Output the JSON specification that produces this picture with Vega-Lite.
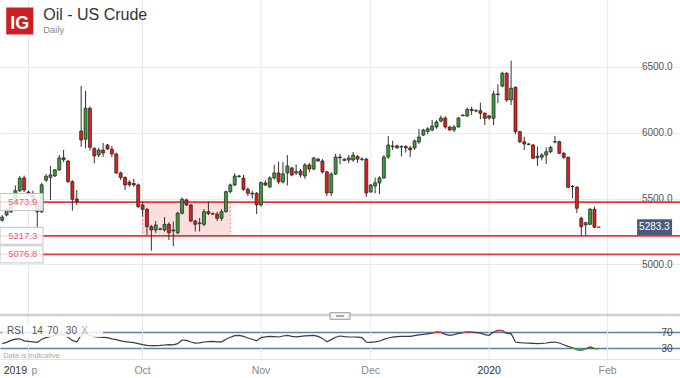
{
"$schema": "https://vega.github.io/schema/vega-lite/v6.json",
"width": 680,
"height": 359,
"padding": {"left": 0, "top": 0, "right": 0, "bottom": 19},
"autosize": {"type": "none"},
"background": "#ffffff",
"config": {"view": {"stroke": null}, "font": "Liberation Sans"},
"datasets": {
"candles": [
{"d":"2019-08-25","o":5336,"h":5375,"l":5325,"c":5360,"r":41},
{"d":"2019-08-26","o":5376,"h":5425,"l":5365,"c":5413,"r":44},
{"d":"2019-08-27","o":5400,"h":5450,"l":5390,"c":5436,"r":49},
{"d":"2019-08-28","o":5470,"h":5600,"l":5460,"c":5560,"r":52},
{"d":"2019-08-29","o":5560,"h":5672,"l":5550,"c":5655,"r":53},
{"d":"2019-08-30","o":5657,"h":5675,"l":5550,"c":5566,"r":48},
{"d":"2019-09-01","o":5550,"h":5560,"l":5520,"c":5540,"r":46.5},
{"d":"2019-09-02","o":5540,"h":5560,"l":5460,"c":5480,"r":45.5},
{"d":"2019-09-03","o":5460,"h":5480,"l":5285,"c":5400,"r":44},
{"d":"2019-09-04","o":5400,"h":5620,"l":5390,"c":5605,"r":52},
{"d":"2019-09-05","o":5640,"h":5687,"l":5627,"c":5670,"r":56},
{"d":"2019-09-06","o":5660,"h":5750,"l":5490,"c":5680,"r":59},
{"d":"2019-09-08","o":5672,"h":5725,"l":5665,"c":5718,"r":61},
{"d":"2019-09-09","o":5718,"h":5831,"l":5710,"c":5809,"r":64},
{"d":"2019-09-10","o":5810,"h":5870,"l":5778,"c":5795,"r":63},
{"d":"2019-09-11","o":5785,"h":5795,"l":5620,"c":5629,"r":57},
{"d":"2019-09-12","o":5629,"h":5640,"l":5409,"c":5495,"r":49},
{"d":"2019-09-13","o":5497,"h":5566,"l":5452,"c":5478,"r":45},
{"d":"2019-09-15","o":6013,"h":6355,"l":5894,"c":5945,"r":62},
{"d":"2019-09-16","o":5951,"h":6320,"l":5882,"c":6186,"r":68},
{"d":"2019-09-17","o":6186,"h":6200,"l":5865,"c":5890,"r":62},
{"d":"2019-09-18","o":5882,"h":5890,"l":5768,"c":5824,"r":58.5},
{"d":"2019-09-19","o":5831,"h":5885,"l":5815,"c":5869,"r":57},
{"d":"2019-09-20","o":5869,"h":5922,"l":5816,"c":5846,"r":56.5},
{"d":"2019-09-22","o":5907,"h":5915,"l":5870,"c":5877,"r":55.8},
{"d":"2019-09-23","o":5875,"h":5900,"l":5816,"c":5839,"r":53},
{"d":"2019-09-24","o":5839,"h":5850,"l":5690,"c":5695,"r":51},
{"d":"2019-09-25","o":5695,"h":5705,"l":5640,"c":5660,"r":48},
{"d":"2019-09-26","o":5660,"h":5670,"l":5566,"c":5604,"r":46},
{"d":"2019-09-27","o":5625,"h":5640,"l":5590,"c":5605,"r":44.5},
{"d":"2019-09-29","o":5615,"h":5650,"l":5590,"c":5604,"r":43.5},
{"d":"2019-09-30","o":5604,"h":5615,"l":5430,"c":5439,"r":41},
{"d":"2019-10-01","o":5452,"h":5477,"l":5363,"c":5419,"r":38.5},
{"d":"2019-10-02","o":5419,"h":5430,"l":5224,"c":5287,"r":36.7},
{"d":"2019-10-03","o":5287,"h":5300,"l":5105,"c":5262,"r":36},
{"d":"2019-10-04","o":5262,"h":5330,"l":5240,"c":5300,"r":35.8},
{"d":"2019-10-06","o":5270,"h":5280,"l":5260,"c":5268,"r":36.5},
{"d":"2019-10-07","o":5262,"h":5360,"l":5250,"c":5305,"r":37.5},
{"d":"2019-10-08","o":5305,"h":5320,"l":5186,"c":5241,"r":38.3},
{"d":"2019-10-09","o":5255,"h":5325,"l":5140,"c":5262,"r":38},
{"d":"2019-10-10","o":5241,"h":5400,"l":5230,"c":5389,"r":41},
{"d":"2019-10-11","o":5389,"h":5510,"l":5380,"c":5495,"r":50},
{"d":"2019-10-13","o":5490,"h":5500,"l":5445,"c":5452,"r":49},
{"d":"2019-10-14","o":5452,"h":5460,"l":5320,"c":5330,"r":45},
{"d":"2019-10-15","o":5330,"h":5340,"l":5250,"c":5305,"r":42},
{"d":"2019-10-16","o":5310,"h":5353,"l":5250,"c":5316,"r":43},
{"d":"2019-10-17","o":5305,"h":5420,"l":5290,"c":5401,"r":45},
{"d":"2019-10-18","o":5401,"h":5477,"l":5375,"c":5386,"r":46},
{"d":"2019-10-20","o":5386,"h":5395,"l":5375,"c":5383,"r":46.7},
{"d":"2019-10-21","o":5383,"h":5400,"l":5330,"c":5351,"r":45.5},
{"d":"2019-10-22","o":5351,"h":5420,"l":5330,"c":5401,"r":45.5},
{"d":"2019-10-23","o":5401,"h":5560,"l":5395,"c":5553,"r":52},
{"d":"2019-10-24","o":5553,"h":5615,"l":5540,"c":5604,"r":57},
{"d":"2019-10-25","o":5604,"h":5692,"l":5595,"c":5672,"r":61},
{"d":"2019-10-27","o":5672,"h":5680,"l":5660,"c":5668,"r":61.7},
{"d":"2019-10-28","o":5655,"h":5680,"l":5560,"c":5571,"r":59},
{"d":"2019-10-29","o":5571,"h":5585,"l":5520,"c":5541,"r":55},
{"d":"2019-10-30","o":5541,"h":5560,"l":5500,"c":5535,"r":52},
{"d":"2019-10-31","o":5541,"h":5550,"l":5383,"c":5452,"r":48},
{"d":"2019-11-01","o":5452,"h":5630,"l":5440,"c":5621,"r":56},
{"d":"2019-11-03","o":5619,"h":5640,"l":5595,"c":5604,"r":58},
{"d":"2019-11-04","o":5589,"h":5670,"l":5580,"c":5657,"r":59},
{"d":"2019-11-05","o":5657,"h":5756,"l":5645,"c":5695,"r":58.5},
{"d":"2019-11-06","o":5695,"h":5780,"l":5610,"c":5627,"r":57.5},
{"d":"2019-11-07","o":5627,"h":5778,"l":5615,"c":5688,"r":60},
{"d":"2019-11-08","o":5695,"h":5830,"l":5600,"c":5748,"r":61.7},
{"d":"2019-11-10","o":5733,"h":5740,"l":5670,"c":5680,"r":59},
{"d":"2019-11-11","o":5695,"h":5760,"l":5680,"c":5705,"r":58},
{"d":"2019-11-12","o":5710,"h":5725,"l":5660,"c":5680,"r":59},
{"d":"2019-11-13","o":5672,"h":5770,"l":5650,"c":5756,"r":60.5},
{"d":"2019-11-14","o":5756,"h":5770,"l":5700,"c":5725,"r":61},
{"d":"2019-11-15","o":5725,"h":5815,"l":5715,"c":5809,"r":61.7},
{"d":"2019-11-17","o":5800,"h":5810,"l":5780,"c":5786,"r":59},
{"d":"2019-11-18","o":5786,"h":5800,"l":5690,"c":5703,"r":54},
{"d":"2019-11-19","o":5703,"h":5710,"l":5520,"c":5543,"r":45.5},
{"d":"2019-11-20","o":5543,"h":5700,"l":5520,"c":5687,"r":51},
{"d":"2019-11-21","o":5687,"h":5840,"l":5680,"c":5816,"r":57},
{"d":"2019-11-22","o":5816,"h":5840,"l":5760,"c":5810,"r":60},
{"d":"2019-11-24","o":5800,"h":5805,"l":5785,"c":5790,"r":58.5},
{"d":"2019-11-25","o":5793,"h":5830,"l":5770,"c":5809,"r":57.5},
{"d":"2019-11-26","o":5793,"h":5855,"l":5780,"c":5831,"r":57.5},
{"d":"2019-11-27","o":5820,"h":5830,"l":5770,"c":5800,"r":57},
{"d":"2019-11-28","o":5800,"h":5815,"l":5785,"c":5798,"r":56},
{"d":"2019-11-29","o":5800,"h":5810,"l":5513,"c":5543,"r":44.5},
{"d":"2019-12-01","o":5551,"h":5610,"l":5545,"c":5604,"r":44},
{"d":"2019-12-02","o":5596,"h":5660,"l":5540,"c":5620,"r":45.5},
{"d":"2019-12-03","o":5619,"h":5670,"l":5535,"c":5657,"r":47.5},
{"d":"2019-12-04","o":5657,"h":5830,"l":5650,"c":5816,"r":51.5},
{"d":"2019-12-05","o":5816,"h":5975,"l":5800,"c":5907,"r":55},
{"d":"2019-12-06","o":5895,"h":5940,"l":5870,"c":5900,"r":57},
{"d":"2019-12-08","o":5900,"h":5910,"l":5880,"c":5885,"r":58.5},
{"d":"2019-12-09","o":5895,"h":5905,"l":5820,"c":5892,"r":59},
{"d":"2019-12-10","o":5895,"h":5905,"l":5850,"c":5885,"r":59},
{"d":"2019-12-11","o":5885,"h":5900,"l":5816,"c":5870,"r":59},
{"d":"2019-12-12","o":5885,"h":5950,"l":5870,"c":5938,"r":61},
{"d":"2019-12-13","o":5930,"h":6030,"l":5915,"c":5968,"r":63},
{"d":"2019-12-15","o":5983,"h":6030,"l":5975,"c":6021,"r":64},
{"d":"2019-12-16","o":6010,"h":6044,"l":5990,"c":6030,"r":65.5},
{"d":"2019-12-17","o":6021,"h":6097,"l":6010,"c":6051,"r":67,"zone":"ob1"},
{"d":"2019-12-18","o":6044,"h":6095,"l":6030,"c":6082,"r":70,"zone":"ob1"},
{"d":"2019-12-19","o":6089,"h":6130,"l":6080,"c":6112,"r":69,"zone":"ob1"},
{"d":"2019-12-20","o":6112,"h":6125,"l":6030,"c":6044,"r":64},
{"d":"2019-12-22","o":6044,"h":6050,"l":6015,"c":6021,"r":61.7},
{"d":"2019-12-23","o":6021,"h":6060,"l":6005,"c":6044,"r":63.5},
{"d":"2019-12-24","o":6044,"h":6120,"l":6040,"c":6112,"r":66.5},
{"d":"2019-12-25","o":6130,"h":6140,"l":6125,"c":6135,"r":68.5,"zone":"ob2"},
{"d":"2019-12-26","o":6128,"h":6190,"l":6120,"c":6178,"r":70,"zone":"ob2"},
{"d":"2019-12-27","o":6178,"h":6198,"l":6135,"c":6168,"r":69.5,"zone":"ob2"},
{"d":"2019-12-29","o":6168,"h":6180,"l":6155,"c":6165,"r":68.5},
{"d":"2019-12-30","o":6168,"h":6229,"l":6103,"c":6148,"r":67},
{"d":"2019-12-31","o":6148,"h":6155,"l":6059,"c":6110,"r":63.5},
{"d":"2020-01-01","o":6128,"h":6135,"l":6100,"c":6112,"r":61.7},
{"d":"2020-01-02","o":6110,"h":6320,"l":6059,"c":6295,"r":70,"zone":"ob3"},
{"d":"2020-01-03","o":6290,"h":6368,"l":6224,"c":6295,"r":74,"zone":"ob3"},
{"d":"2020-01-05","o":6355,"h":6464,"l":6345,"c":6452,"r":73.5,"zone":"ob3"},
{"d":"2020-01-06","o":6452,"h":6460,"l":6235,"c":6249,"r":66.5},
{"d":"2020-01-07","o":6249,"h":6547,"l":6211,"c":6338,"r":65.8},
{"d":"2020-01-08","o":6346,"h":6350,"l":5990,"c":6008,"r":45},
{"d":"2020-01-09","o":6008,"h":6015,"l":5920,"c":5932,"r":43.5},
{"d":"2020-01-10","o":5932,"h":5970,"l":5869,"c":5915,"r":42.5},
{"d":"2020-01-12","o":5915,"h":5920,"l":5905,"c":5912,"r":42},
{"d":"2020-01-13","o":5907,"h":5915,"l":5800,"c":5806,"r":41.5},
{"d":"2020-01-14","o":5810,"h":5895,"l":5748,"c":5822,"r":40.8},
{"d":"2020-01-15","o":5814,"h":5845,"l":5790,"c":5831,"r":41.5},
{"d":"2020-01-16","o":5831,"h":5890,"l":5763,"c":5856,"r":42.5},
{"d":"2020-01-17","o":5856,"h":5900,"l":5845,"c":5890,"r":44},
{"d":"2020-01-19","o":5930,"h":5976,"l":5920,"c":5932,"r":45},
{"d":"2020-01-20","o":5932,"h":5940,"l":5840,"c":5844,"r":42.5},
{"d":"2020-01-21","o":5844,"h":5855,"l":5800,"c":5814,"r":38},
{"d":"2020-01-22","o":5814,"h":5820,"l":5580,"c":5586,"r":34},
{"d":"2020-01-23","o":5590,"h":5604,"l":5503,"c":5592,"r":30.5,"zone":"os1"},
{"d":"2020-01-24","o":5586,"h":5595,"l":5389,"c":5427,"r":26,"zone":"os1"},
{"d":"2020-01-26","o":5351,"h":5363,"l":5220,"c":5287,"r":24.5,"zone":"os1"},
{"d":"2020-01-27","o":5300,"h":5325,"l":5220,"c":5317,"r":27.5,"zone":"os1"},
{"d":"2020-01-28","o":5305,"h":5430,"l":5300,"c":5419,"r":32.5},
{"d":"2020-01-29","o":5419,"h":5439,"l":5275,"c":5283,"r":28.5,"zone":"os2"},
{"d":"2020-01-30","o":5283,"h":5285,"l":5281,"c":5283.3,"r":28.3,"zone":"os2"}
],
"levels": [{"level": 5473.9}, {"level": 5217.3}, {"level": 5076.8}],
"months": [
{"d": "2019-09-01", "label": "p"},
{"d": "2019-10-01", "label": "Oct"},
{"d": "2019-11-01", "label": "Nov"},
{"d": "2019-12-01", "label": "Dec"},
{"d": "2020-01-01", "label": "2020"},
{"d": "2020-02-02", "label": "Feb"}
]
},
"layer": [
{"layer": [
{"data": {"name": "months"},
 "mark": {"type": "rule", "color": "#e8e8e8", "strokeWidth": 1},
 "encoding": {
  "x": {"field": "d", "type": "ordinal"}}},
{"data": {"values": [{}]},
 "mark": {"type": "rect", "fill": "#f7c4c4", "fillOpacity": 0.55, "stroke": "#ef8a8a", "strokeDash": [2, 2], "strokeWidth": 1},
 "encoding": {
  "x": {"datum": "2019-10-01", "type": "ordinal"},
  "x2": {"datum": "2019-10-24"},
  "y": {"datum": 5473.9, "type": "quantitative", "scale": {"domain": [4282.5, 7008], "nice": false, "zero": false}},
  "y2": {"datum": 5217.3}}},
{"data": {"name": "levels"},
 "mark": {"type": "rule", "color": "#e5393c", "strokeWidth": 1.8},
 "encoding": {
  "y": {"field": "level", "type": "quantitative", "scale": {"domain": [4282.5, 7008], "nice": false, "zero": false}}}},
{"data": {"name": "candles"},
 "mark": {"type": "rule", "color": "#333333", "strokeWidth": 1},
 "encoding": {
  "x": {"field": "d", "type": "ordinal",
   "scale": {"type": "band", "paddingInner": 0, "paddingOuter": 0, "domain": ["2019-08-25","2019-08-26","2019-08-27","2019-08-28","2019-08-29","2019-08-30","2019-09-01","2019-09-02","2019-09-03","2019-09-04","2019-09-05","2019-09-06","2019-09-08","2019-09-09","2019-09-10","2019-09-11","2019-09-12","2019-09-13","2019-09-15","2019-09-16","2019-09-17","2019-09-18","2019-09-19","2019-09-20","2019-09-22","2019-09-23","2019-09-24","2019-09-25","2019-09-26","2019-09-27","2019-09-29","2019-09-30","2019-10-01","2019-10-02","2019-10-03","2019-10-04","2019-10-06","2019-10-07","2019-10-08","2019-10-09","2019-10-10","2019-10-11","2019-10-13","2019-10-14","2019-10-15","2019-10-16","2019-10-17","2019-10-18","2019-10-20","2019-10-21","2019-10-22","2019-10-23","2019-10-24","2019-10-25","2019-10-27","2019-10-28","2019-10-29","2019-10-30","2019-10-31","2019-11-01","2019-11-03","2019-11-04","2019-11-05","2019-11-06","2019-11-07","2019-11-08","2019-11-10","2019-11-11","2019-11-12","2019-11-13","2019-11-14","2019-11-15","2019-11-17","2019-11-18","2019-11-19","2019-11-20","2019-11-21","2019-11-22","2019-11-24","2019-11-25","2019-11-26","2019-11-27","2019-11-28","2019-11-29","2019-12-01","2019-12-02","2019-12-03","2019-12-04","2019-12-05","2019-12-06","2019-12-08","2019-12-09","2019-12-10","2019-12-11","2019-12-12","2019-12-13","2019-12-15","2019-12-16","2019-12-17","2019-12-18","2019-12-19","2019-12-20","2019-12-22","2019-12-23","2019-12-24","2019-12-25","2019-12-26","2019-12-27","2019-12-29","2019-12-30","2019-12-31","2020-01-01","2020-01-02","2020-01-03","2020-01-05","2020-01-06","2020-01-07","2020-01-08","2020-01-09","2020-01-10","2020-01-12","2020-01-13","2020-01-14","2020-01-15","2020-01-16","2020-01-17","2020-01-19","2020-01-20","2020-01-21","2020-01-22","2020-01-23","2020-01-24","2020-01-26","2020-01-27","2020-01-28","2020-01-29","2020-01-30","2020-01-31","2020-02-02","2020-02-03","2020-02-04","2020-02-05","2020-02-06","2020-02-07","2020-02-09","2020-02-10","2020-02-11","2020-02-12","2020-02-13","2020-02-14","2020-02-16","2020-02-17","2020-02-18","2020-02-19","2020-02-20"]},
   "axis": {"orient": "bottom", "title": null, "labels": false, "ticks": false, "grid": false, "domain": true, "domainColor": "#e2e2e2"}},
  "y": {"field": "l", "type": "quantitative", "scale": {"domain": [4282.5, 7008], "nice": false, "zero": false},
   "axis": {"orient": "right", "title": null, "values": [5000, 5500, 6000, 6500], "format": ".1f",
    "domain": false, "ticks": false, "grid": true, "gridColor": "#ebebeb",
    "labelAlign": "right", "labelBaseline": "middle", "labelPadding": -8, "labelFontSize": 10, "labelColor": "#555555"}},
  "y2": {"field": "h"}}},
{"data": {"name": "candles"},
 "mark": {"type": "bar", "size": 3, "stroke": "#1e1e1e", "strokeWidth": 0.7},
 "encoding": {
  "x": {"field": "d", "type": "ordinal"},
  "y": {"field": "o", "type": "quantitative", "scale": {"domain": [4282.5, 7008], "nice": false, "zero": false}},
  "y2": {"field": "c"},
  "color": {"condition": {"test": "datum.c >= datum.o", "value": "#3b9b3b"}, "value": "#e31c1c"}}},
{"data": {"name": "levels"},
 "mark": {"type": "point", "shape": "M-0.11,-0.425H2.04V0.425H-0.11Z", "size": 1600, "filled": true, "fill": "#ffffff", "fillOpacity": 0.85, "stroke": "#c4c4c4", "strokeWidth": 1, "opacity": 1},
 "encoding": {
  "x": {"datum": "2019-08-25", "type": "ordinal"},
  "y": {"field": "level", "type": "quantitative", "scale": {"domain": [4282.5, 7008], "nice": false, "zero": false}}}},
{"data": {"name": "levels"},
 "mark": {"type": "text", "align": "left", "baseline": "middle", "dx": 6, "fontSize": 9.5, "color": "#e8676a"},
 "encoding": {
  "x": {"datum": "2019-08-25", "type": "ordinal"},
  "y": {"field": "level", "type": "quantitative", "scale": {"domain": [4282.5, 7008], "nice": false, "zero": false}},
  "text": {"field": "level", "type": "quantitative", "format": ".1f"}}},
{"data": {"name": "candles"},
 "transform": [{"filter": "datum.d == '2020-01-30'"}],
 "mark": {"type": "point", "shape": "M-1.074,-0.457H0.926V0.457H-1.074Z", "size": 1225, "filled": true, "fill": "#4a5c7a", "opacity": 1, "strokeWidth": 0},
 "encoding": {
  "x": {"datum": "2020-02-14", "type": "ordinal"},
  "y": {"field": "c", "type": "quantitative", "scale": {"domain": [4282.5, 7008], "nice": false, "zero": false}}}},
{"data": {"name": "candles"},
 "transform": [{"filter": "datum.d == '2020-01-30'"}],
 "mark": {"type": "text", "align": "center", "baseline": "middle", "dx": -1.5, "fontSize": 10, "color": "#ffffff"},
 "encoding": {
  "x": {"datum": "2020-02-14", "type": "ordinal"},
  "y": {"field": "c", "type": "quantitative", "scale": {"domain": [4282.5, 7008], "nice": false, "zero": false}},
  "text": {"field": "c", "type": "quantitative", "format": ".1f"}}},
{"data": {"values": [{}]},
 "mark": {"type": "point", "shape": "square", "size": 729, "filled": true, "fill": "#cc1f24", "opacity": 1},
 "encoding": {
  "x": {"datum": "2019-08-29", "type": "ordinal"},
  "y": {"datum": 6848.6, "type": "quantitative", "scale": {"domain": [4282.5, 7008], "nice": false, "zero": false}}}},
{"data": {"values": [{}]},
 "mark": {"type": "text", "text": "IG", "align": "center", "baseline": "alphabetic", "fontSize": 18, "fontWeight": "bold", "color": "#ffffff"},
 "encoding": {
  "x": {"datum": "2019-08-29", "type": "ordinal"},
  "y": {"datum": 6787, "type": "quantitative", "scale": {"domain": [4282.5, 7008], "nice": false, "zero": false}}}},
{"data": {"values": [{}]},
 "mark": {"type": "text", "text": "Oil - US Crude", "align": "left", "baseline": "alphabetic", "dx": 41, "fontSize": 16, "color": "#333333"},
 "encoding": {
  "x": {"datum": "2019-08-25", "type": "ordinal"},
  "y": {"datum": 6856, "type": "quantitative", "scale": {"domain": [4282.5, 7008], "nice": false, "zero": false}}}},
{"data": {"values": [{}]},
 "mark": {"type": "text", "text": "Daily", "align": "left", "baseline": "alphabetic", "dx": 41, "fontSize": 9.5, "color": "#888888"},
 "encoding": {
  "x": {"datum": "2019-08-25", "type": "ordinal"},
  "y": {"datum": 6757, "type": "quantitative", "scale": {"domain": [4282.5, 7008], "nice": false, "zero": false}}}}
]},
{"layer": [
{"data": {"values": [{}]},
 "mark": {"type": "rule", "color": "#d0d0d0", "strokeWidth": 2.5},
 "encoding": {
  "y": {"datum": 112.5, "type": "quantitative", "scale": {"domain": [2.5, 900], "nice": false, "zero": false}}}},
{"data": {"name": "candles"},
 "mark": {"type": "line", "color": "#3c3c3c", "strokeWidth": 1.2},
 "encoding": {
  "x": {"field": "d", "type": "ordinal"},
  "y": {"field": "r", "type": "quantitative", "scale": {"domain": [2.5, 900], "nice": false, "zero": false},
   "axis": {"orient": "right", "title": null, "values": [30, 70], "domain": false, "ticks": false, "grid": true,
    "gridColor": "#5b7fa6", "gridWidth": 1.3, "labelAlign": "right", "labelBaseline": "middle", "labelPadding": -8,
    "labelFontSize": 10, "labelColor": "#444444"}}}},
{"data": {"name": "candles"},
 "transform": [{"filter": {"field": "zone", "oneOf": ["ob1", "ob2", "ob3"]}}],
 "mark": {"type": "line", "color": "#e53935", "strokeWidth": 1.3},
 "encoding": {
  "x": {"field": "d", "type": "ordinal"},
  "y": {"field": "r", "type": "quantitative", "scale": {"domain": [2.5, 900], "nice": false, "zero": false}},
  "detail": {"field": "zone"}}},
{"data": {"name": "candles"},
 "transform": [{"filter": {"field": "zone", "oneOf": ["os1", "os2"]}}],
 "mark": {"type": "line", "color": "#3aaa3a", "strokeWidth": 1.3},
 "encoding": {
  "x": {"field": "d", "type": "ordinal"},
  "y": {"field": "r", "type": "quantitative", "scale": {"domain": [2.5, 900], "nice": false, "zero": false}},
  "detail": {"field": "zone"}}},
{"data": {"values": [{}]},
 "mark": {"type": "rect", "fill": "#ffffff", "opacity": 0.85},
 "encoding": {
  "x": {"datum": "2019-08-25", "type": "ordinal"},
  "x2": {"datum": "2019-09-20"},
  "y": {"datum": 87.5, "type": "quantitative", "scale": {"domain": [2.5, 900], "nice": false, "zero": false}},
  "y2": {"datum": 57.5}}},
{"data": {"values": [{}]},
 "mark": {"type": "point", "shape": "M-1,-0.33H1V0.33H-1Z", "size": 400, "filled": true, "fill": "#f5f5f5", "stroke": "#999999", "strokeWidth": 1, "opacity": 1},
 "encoding": {
  "x": {"datum": "2019-11-22", "type": "ordinal"},
  "y": {"datum": 110, "type": "quantitative", "scale": {"domain": [2.5, 900], "nice": false, "zero": false}}}},
{"data": {"values": [{}]},
 "mark": {"type": "point", "shape": "M-1,-0.25H1V0.25H-1Z", "size": 64, "filled": true, "fill": "#aaaaaa", "opacity": 1},
 "encoding": {
  "x": {"datum": "2019-11-22", "type": "ordinal"},
  "y": {"datum": 110, "type": "quantitative", "scale": {"domain": [2.5, 900], "nice": false, "zero": false}}}},
{"data": {"values": [{}]},
 "mark": {"type": "text", "text": "RSI", "align": "center", "baseline": "middle", "fontSize": 10, "color": "#555555"},
 "encoding": {
  "x": {"datum": "2019-08-28", "type": "ordinal"},
  "y": {"datum": 72.5, "type": "quantitative", "scale": {"domain": [2.5, 900], "nice": false, "zero": false}}}},
{"data": {"values": [{}]},
 "mark": {"type": "text", "text": "14", "align": "center", "baseline": "middle", "fontSize": 10, "color": "#555555"},
 "encoding": {
  "x": {"datum": "2019-09-03", "type": "ordinal"},
  "y": {"datum": 72.5, "type": "quantitative", "scale": {"domain": [2.5, 900], "nice": false, "zero": false}}}},
{"data": {"values": [{}]},
 "mark": {"type": "text", "text": "70", "align": "center", "baseline": "middle", "dx": -2, "fontSize": 10, "color": "#555555"},
 "encoding": {
  "x": {"datum": "2019-09-08", "type": "ordinal"},
  "y": {"datum": 72.5, "type": "quantitative", "scale": {"domain": [2.5, 900], "nice": false, "zero": false}}}},
{"data": {"values": [{}]},
 "mark": {"type": "text", "text": "30", "align": "center", "baseline": "middle", "dx": -1, "fontSize": 10, "color": "#555555"},
 "encoding": {
  "x": {"datum": "2019-09-12", "type": "ordinal"},
  "y": {"datum": 72.5, "type": "quantitative", "scale": {"domain": [2.5, 900], "nice": false, "zero": false}}}},
{"data": {"values": [{}]},
 "mark": {"type": "text", "text": "X", "align": "center", "baseline": "middle", "dx": -1, "fontSize": 10, "color": "#aaaaaa"},
 "encoding": {
  "x": {"datum": "2019-09-16", "type": "ordinal"},
  "y": {"datum": 72.5, "type": "quantitative", "scale": {"domain": [2.5, 900], "nice": false, "zero": false}}}},
{"data": {"values": [{}]},
 "mark": {"type": "text", "text": "Data is indicative", "align": "left", "baseline": "middle", "dx": 1, "fontSize": 7.5, "color": "#aaaaaa"},
 "encoding": {
  "x": {"datum": "2019-08-25", "type": "ordinal"},
  "y": {"datum": 10, "type": "quantitative", "scale": {"domain": [2.5, 900], "nice": false, "zero": false}}}},
{"data": {"values": [{}]},
 "mark": {"type": "text", "text": "2019", "align": "center", "baseline": "middle", "fontSize": 10.5, "color": "#333333"},
 "encoding": {
  "x": {"datum": "2019-08-28", "type": "ordinal"},
  "y": {"datum": -27.5, "type": "quantitative", "scale": {"domain": [2.5, 900], "nice": false, "zero": false}}}},
{"data": {"name": "months"},
 "transform": [{"filter": "datum.label == 'p'"}],
 "mark": {"type": "text", "align": "center", "baseline": "middle", "dx": 6, "fontSize": 10.5, "color": "#8a8a8a"},
 "encoding": {
  "x": {"field": "d", "type": "ordinal"},
  "y": {"datum": -27.5, "type": "quantitative", "scale": {"domain": [2.5, 900], "nice": false, "zero": false}},
  "text": {"field": "label", "type": "nominal"}}},
{"data": {"name": "months"},
 "transform": [{"filter": "datum.label != 'p'"}],
 "mark": {"type": "text", "align": "center", "baseline": "middle", "fontSize": 10.5},
 "encoding": {
  "x": {"field": "d", "type": "ordinal"},
  "y": {"datum": -27.5, "type": "quantitative", "scale": {"domain": [2.5, 900], "nice": false, "zero": false}},
  "text": {"field": "label", "type": "nominal"},
  "color": {"condition": {"test": "datum.label == '2020'", "value": "#333333"}, "value": "#8a8a8a"}}}
]}
],
"resolve": {"scale": {"y": "independent"}}
}
